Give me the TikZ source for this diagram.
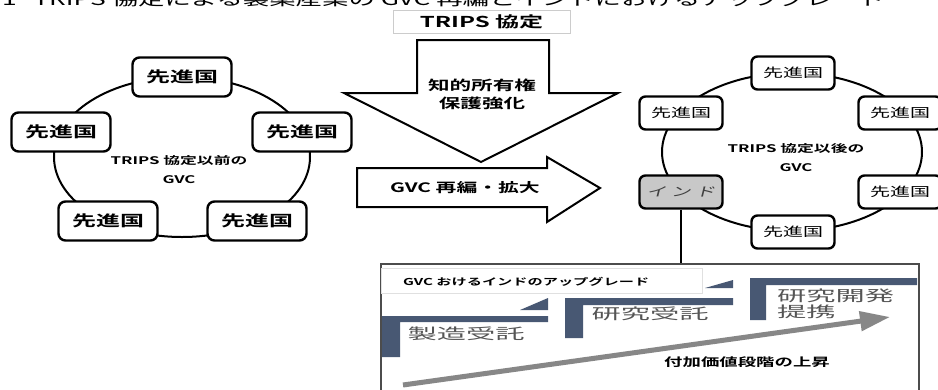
\documentclass[tikz,border=0pt]{standalone}
\usepackage{fontspec}
\usetikzlibrary{arrows.meta}
\newfontfamily\jp[FakeStretch=1.6]{Noto Sans CJK JP}
\newfontfamily\jpb[FakeStretch=1.6]{Noto Sans CJK JP Bold}
\newfontfamily\jpi[FakeStretch=1.6,FakeSlant=0.25]{Noto Sans CJK JP}
\newfontfamily\jpw[FakeStretch=1.95]{Noto Sans CJK JP}
\definecolor{stepc}{RGB}{72,88,115}
\definecolor{labc}{RGB}{85,85,85}
\definecolor{arrowg}{RGB}{135,135,135}
\definecolor{indiac}{RGB}{200,200,200}
\begin{document}
\begin{tikzpicture}[x=1pt,y=-1pt,
  cbox/.style={draw=black,line width=2.4pt,rounded corners=7pt,fill=white,minimum width=99pt,minimum height=39pt,inner sep=0pt,font=\jpb\fontsize{15}{15}\selectfont},
  rbox/.style={draw=black,line width=2.4pt,rounded corners=6pt,fill=white,minimum width=83pt,minimum height=33pt,inner sep=0pt,font=\jp\fontsize{12.5}{12.5}\selectfont},
  ring/.style={draw=black,line width=2pt},
  bigarrow/.style={draw=black,line width=2pt,fill=white,line join=miter},
  stepbar/.style={fill=stepc},
  steplabel/.style={text=labc,font=\jpw\fontsize{15}{15.5}\selectfont,inner sep=0pt},
  boldlabel/.style={font=\jpb\fontsize{10.5}{19}\selectfont,align=center,inner sep=0pt}]
\clip (0,0) rectangle (938,389);
\fill[white] (0,0) rectangle (938,389);
% clipped title line
\node[anchor=base west,inner sep=0pt,font=\jp\fontsize{16.5}{16.5}\selectfont] (title) at (2,5) {1\hspace{1em}TRIPS 協定による製薬産業の GVC 再編とインドにおけるアップグレード};
% TRIPS label
\node[draw=black!20,line width=0.8pt,fill=white,minimum width=177pt,minimum height=23pt,inner sep=0pt,font=\jpb\fontsize{15}{15}\selectfont] (trips) at (481.5,21.5) {TRIPS 協定};
% big arrows
\draw[bigarrow] (417,40) -- (549,40) -- (549,93) -- (618,93) -- (481,162) -- (344,93) -- (417,93) -- cycle;
\node[font=\jpb\fontsize{13.5}{18}\selectfont,align=center,inner sep=0pt] (ipr) at (482,94) {知的所有権\\保護強化};
\draw[bigarrow] (357,168) -- (547,168) -- (547,157) -- (600,188) -- (547,222) -- (547,207) -- (357,207) -- cycle;
\node[font=\jpb\fontsize{13}{13}\selectfont,inner sep=0pt] (gvcre) at (465,188) {GVC 再編・拡大};
% left ring
\draw[ring] (182,157) ellipse [x radius=128, y radius=80];
\node[boldlabel] (lc) at (179,170) {TRIPS 協定以前の\\GVC};
\node[cbox] (l1) at (182,77) {先進国};
\node[cbox] (l2) at (61,132) {先進国};
\node[cbox] (l3) at (302,132) {先進国};
\node[cbox] (l4) at (108,221) {先進国};
\node[cbox] (l5) at (257,221) {先進国};
% right ring
\draw[ring] (792,152) ellipse [x radius=130, y radius=79];
\node[boldlabel] (rc) at (796,158) {TRIPS 協定以後の\\GVC};
\node[rbox] (r1) at (793,73) {先進国};
\node[rbox] (r2) at (681,113) {先進国};
\node[rbox] (r3) at (900,113) {先進国};
\node[rbox,fill=indiac,font=\jpi\fontsize{12.5}{12.5}\selectfont,text=black!75] (india) at (681,192) {イ ン ド};
\node[rbox] (r5) at (900,192) {先進国};
\node[rbox] (r6) at (793,232) {先進国};
% panel
\node[draw=black!70,line width=1.5pt,fill=white,minimum width=538pt,minimum height=140pt,inner sep=0pt,anchor=north west] (panel) at (380,263) {};
\draw[line width=2.4pt] (india.south) -- (india.south |- panel.north);
\node[draw=black!12,line width=0.8pt,fill=white,minimum width=321pt,minimum height=25pt,inner sep=0pt,anchor=north west] (hdr) at (381,268) {};
\node[anchor=west,font=\jpb\fontsize{9.5}{10}\selectfont,inner sep=0pt] (hdrtext) at (403,282) {GVC おけるインドのアップグレード};
% steps
\fill[stepc] (382,316) -- (548,316) -- (548,322) -- (400,322) -- (400,357) -- (382,357) -- cycle;
\fill[stepc] (520,310) -- (548,298) -- (548,310) -- cycle;
\fill[stepc] (565,298) -- (733,298) -- (733,305) -- (583,305) -- (583,338) -- (565,338) -- cycle;
\fill[stepc] (705,288) -- (733,280) -- (733,288) -- cycle;
\fill[stepc] (750,278) -- (917,278) -- (917,285) -- (766,285) -- (766,320) -- (750,320) -- cycle;
\node[steplabel] (s1) at (466,334) {製造受託};
\node[steplabel] (s2) at (650,314) {研究受託};
\node[steplabel,anchor=north west,align=left] (s3) at (777,289) {研究開発\\提携};
% value-added arrow
\coordinate (a0) at (403,385);
\coordinate (a1) at (890,317);
\draw[line width=5pt,arrowg,-{Triangle[length=30pt,width=19pt]}] (a0) -- (a1);
\node[font=\jpb\fontsize{11.5}{12}\selectfont,inner sep=0pt] (rise) at (747,362) {付加価値段階の上昇};
\end{tikzpicture}
\end{document}
